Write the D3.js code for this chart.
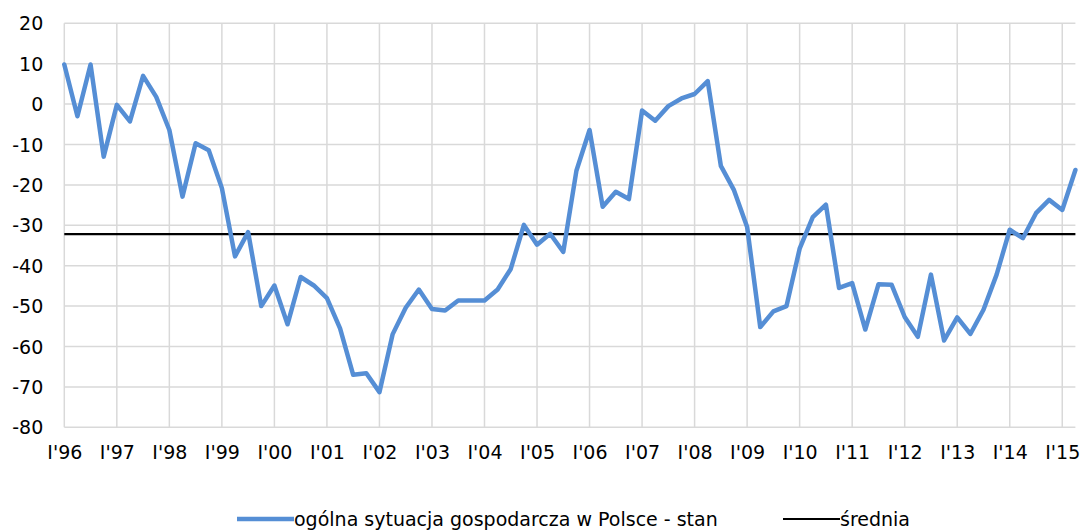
<!DOCTYPE html>
<html lang="pl">
<head>
    <meta charset="UTF-8">
    <title>Ogólna sytuacja gospodarcza</title>
    <script src="https://d3js.org/d3.v7.min.js"></script>
    <style>
        body { margin: 0; background: white; }
        text { font-family: "DejaVu Sans", sans-serif; fill: #000; }
    </style>
</head>
<body>
<svg id="main" width="1083" height="531"></svg>
<script>
    // data, one value per quarter, I'96 .. II'15
    let years = ["96","97","98","99","00","01","02","03","04","05","06","07","08","09","10","11","12","13","14","15"];
    let stan = [
        9.8, -3.0, 9.8, -13.0,
        -0.2, -4.3, 7.0, 1.8,
        -6.4, -22.9, -9.7, -11.4,
        -20.8, -37.7, -31.7, -50.0,
        -44.9, -54.5, -42.8, -44.9,
        -48.0, -55.5, -67.0, -66.6,
        -71.3, -57.0, -50.4, -45.9,
        -50.7, -51.1, -48.6, -48.6,
        -48.6, -45.9, -40.8, -29.9,
        -34.8, -32.1, -36.6, -16.5,
        -6.4, -25.4, -21.7, -23.5,
        -1.6, -4.1, -0.5, 1.4,
        2.5, 5.7, -15.3, -21.3,
        -30.4, -55.2, -51.3, -50.0,
        -35.8, -28.0, -24.9, -45.5,
        -44.3, -55.8, -44.6, -44.7,
        -52.7, -57.6, -42.2, -58.5,
        -52.8, -56.9, -50.9, -42.2,
        -31.1, -33.2, -27.0, -23.7,
        -26.2, -16.3
    ];
    let srednia = -32.2;
    let yTicks = [20, 10, 0, -10, -20, -30, -40, -50, -60, -70, -80];
    let seriesNames = ["ogólna sytuacja gospodarcza w Polsce - stan", "średnia"];

    // quarter categories, only the first quarter of each year gets a label
    let quarters = ["I", "II", "III", "IV"];
    let cats = [];
    years.forEach(function (y) {
        quarters.forEach(function (q) { cats.push(q + "'" + y); });
    });
    cats = cats.slice(0, stan.length);

    let svg = d3.select('svg#main');
    let plot = {left: 64.3, right: 1075.4, top: 23.3, bottom: 427.3};

    let x = d3.scalePoint().domain(cats).range([plot.left, plot.right]);
    let y = d3.scaleLinear().domain([-80, 20]).range([plot.bottom, plot.top]);

    let firstQ = cats.filter(function (c) { return c.indexOf("I'") === 0; });

    // gridlines
    let grid = svg.append('g').attr('class', 'grid');
    grid.selectAll('line.h')
        .data(yTicks)
        .enter().append('line')
        .attr('class', 'h')
        .attr('x1', plot.left).attr('x2', plot.right)
        .attr('y1', function (d) { return y(d); })
        .attr('y2', function (d) { return y(d); })
        .style('stroke', '#d9d9d9').style('stroke-width', '1.5px');
    grid.selectAll('line.v')
        .data(firstQ)
        .enter().append('line')
        .attr('class', 'v')
        .attr('x1', function (d) { return x(d); })
        .attr('x2', function (d) { return x(d); })
        .attr('y1', plot.top).attr('y2', plot.bottom)
        .style('stroke', '#d9d9d9').style('stroke-width', '1.5px');

    // axes (labels only, the lines are the gridlines)
    // plain hyphen for negatives, like the original
    let yAxis = svg.append('g')
        .attr('transform', 'translate(' + (plot.left - 21) + ',0)')
        .call(d3.axisLeft(y).tickValues(yTicks).tickSize(0).tickPadding(0)
            .tickFormat(function (d) { return String(d); }));
    yAxis.select('.domain').remove();
    yAxis.selectAll('text').style('font-size', '19px').attr('dy', '0.35em');

    let xAxis = svg.append('g')
        .attr('transform', 'translate(0,' + (plot.bottom + 17) + ')')
        .call(d3.axisBottom(x).tickValues(firstQ).tickSize(0).tickPadding(0));
    xAxis.select('.domain').remove();
    xAxis.selectAll('text').style('font-size', '19px').attr('dy', '0.75em');

    // mean line
    svg.append('line')
        .attr('x1', plot.left).attr('x2', plot.right)
        .attr('y1', y(srednia)).attr('y2', y(srednia))
        .style('stroke', 'black').style('stroke-width', '2.2px');

    // series
    let line = d3.line()
        .x(function (d, i) { return x(cats[i]); })
        .y(function (d) { return y(d); });
    svg.append('path')
        .datum(stan)
        .attr('d', line)
        .style('fill', 'none')
        .style('stroke', '#558ed5')
        .style('stroke-width', '4.5px')
        .style('stroke-linejoin', 'round')
        .style('stroke-linecap', 'round');

    // legend
    let legend = svg.append('g').attr('class', 'legend');
    let legItems = [
        {name: seriesNames[0], x: 237, color: '#558ed5', w: 4.5},
        {name: seriesNames[1], x: 783, color: 'black', w: 2.2}
    ];
    let li = legend.selectAll('g').data(legItems).enter().append('g')
        .attr('transform', function (d) { return 'translate(' + d.x + ',519)'; });
    li.append('line')
        .attr('x1', 0).attr('x2', 57).attr('y1', 0).attr('y2', 0)
        .style('stroke', function (d) { return d.color; })
        .style('stroke-width', function (d) { return d.w + 'px'; });
    li.append('text')
        .attr('x', 57).attr('dy', '0.35em')
        .style('font-size', '19px')
        .text(function (d) { return d.name; });
</script>
</body>
</html>
